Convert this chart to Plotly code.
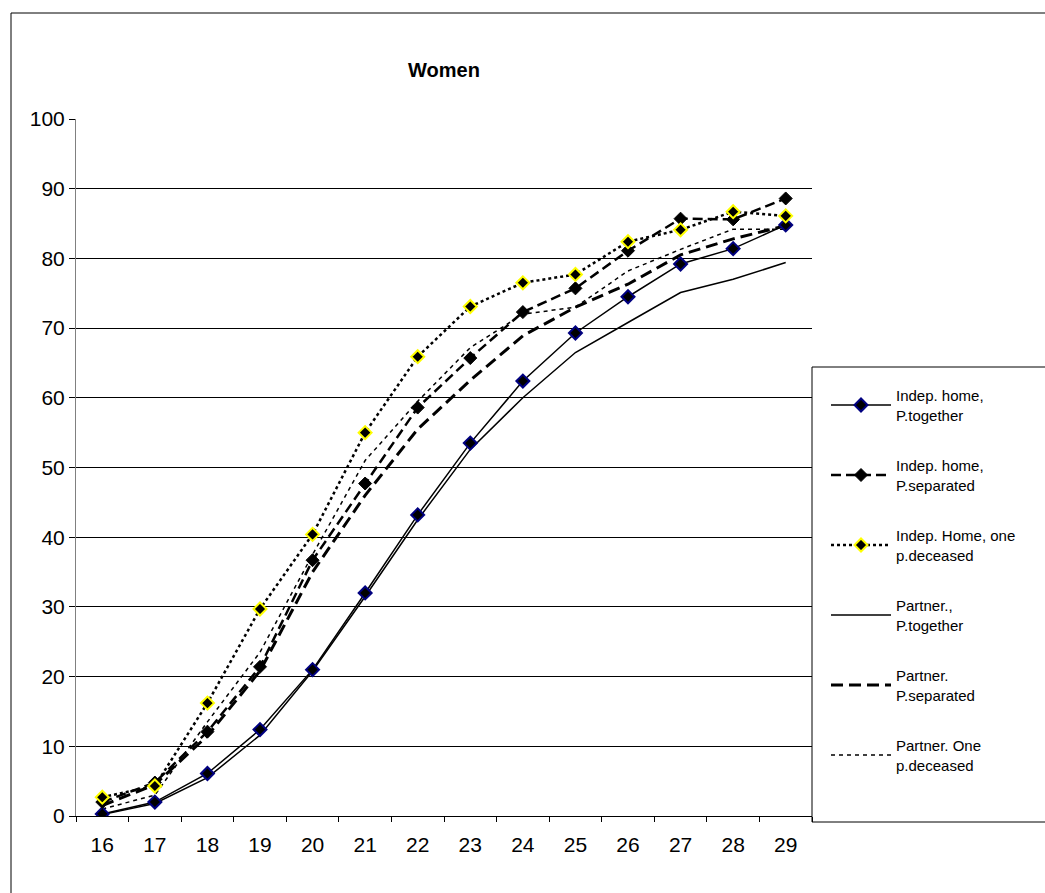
import plotly.graph_objects as go

ages = ["16", "17", "18", "19", "20", "21", "22", "23", "24", "25", "26", "27", "28", "29"]

indep_together = [0.3, 2.0, 6.1, 12.4, 21.0, 32.0, 43.2, 53.5, 62.4, 69.3, 74.5, 79.2, 81.4, 84.8]
indep_separated = [2.0, 4.8, 12.1, 21.4, 36.7, 47.7, 58.6, 65.7, 72.3, 75.7, 81.1, 85.7, 85.6, 88.6]
indep_deceased = [2.7, 4.3, 16.2, 29.7, 40.4, 55.0, 65.9, 73.1, 76.5, 77.7, 82.4, 84.1, 86.7, 86.1]
partner_together = [0.2, 1.8, 5.5, 11.6, 20.8, 31.5, 42.5, 52.6, 60.0, 66.5, 70.8, 75.1, 77.0, 79.4]
partner_separated = [1.5, 4.5, 11.5, 20.8, 35.0, 46.0, 55.5, 62.5, 68.9, 73.0, 76.3, 80.5, 82.8, 84.7]
partner_deceased = [1.0, 3.0, 13.5, 23.5, 37.5, 51.0, 59.5, 67.2, 72.0, 73.0, 78.2, 81.3, 84.2, 84.2]

names = [
    "Indep. home,<br>P.together",
    "Indep. home,<br>P.separated",
    "Indep. Home, one<br>p.deceased",
    "Partner.,<br>P.together",
    "Partner.<br>P.separated",
    "Partner. One<br>p.deceased",
]

fig = go.Figure()

fig.add_trace(go.Scatter(x=ages, y=partner_together, name=names[3], mode="lines",
                         line=dict(color="black", width=1.5), legendrank=4, legendgroup="g4"))
fig.add_trace(go.Scatter(x=ages, y=partner_separated, name=names[4], mode="lines",
                         line=dict(color="black", width=3, dash="12px,6px"), legendrank=5, legendgroup="g5"))
fig.add_trace(go.Scatter(x=ages, y=partner_deceased, name=names[5], mode="lines",
                         line=dict(color="black", width=1.5, dash="4px,4px"), legendrank=6, legendgroup="g6"))
fig.add_trace(go.Scatter(x=ages, y=indep_together, name=names[0], mode="lines+markers",
                         line=dict(color="black", width=1.5),
                         marker=dict(symbol="diamond", size=10, color="black",
                                     line=dict(color="#000080", width=2)), legendrank=1, legendgroup="g1"))
fig.add_trace(go.Scatter(x=ages, y=indep_separated, name=names[1], mode="lines+markers",
                         line=dict(color="black", width=2.5, dash="10px,5px"),
                         marker=dict(symbol="diamond", size=10, color="black",
                                     line=dict(color="black", width=1)), legendrank=2, legendgroup="g2"))
fig.add_trace(go.Scatter(x=ages, y=indep_deceased, name=names[2], mode="lines+markers",
                         line=dict(color="black", width=2.5, dash="dot"),
                         marker=dict(symbol="diamond", size=10, color="black",
                                     line=dict(color="#FFFF00", width=2)), legendrank=3, legendgroup="g3"))

PW, PH = 736, 697  # plot area size in px

fig.update_layout(
    width=1045, height=893,
    margin=dict(l=76, r=233, t=119, b=77),
    paper_bgcolor="white", plot_bgcolor="white",
    font=dict(family="Liberation Sans, Arial, sans-serif", size=21, color="black"),
    title=dict(text="<b>Women</b>", x=(444 / 1045), xanchor="center", y=1 - 70 / 893, yanchor="middle",
               font=dict(size=20, color="black")),
    showlegend=True,
    legend=dict(x=1.0 + 14 / PW, xanchor="left", y=(816 - 379) / PH, yanchor="top",
                borderwidth=0, bgcolor="rgba(0,0,0,0)",
                font=dict(size=15, color="black"), tracegroupgap=28,
                traceorder="grouped", itemwidth=60),
    xaxis=dict(type="category", range=[-0.5, 13.5], showgrid=False,
               showline=True, linecolor="black", linewidth=1,
               ticks="outside", ticklen=5, tickcolor="black", tickson="boundaries",
               ticklabelstandoff=10, tickfont=dict(size=21)),
    yaxis=dict(range=[0, 100], dtick=10, showgrid=True, gridcolor="black", gridwidth=1,
               showline=True, linecolor="#808080", linewidth=1,
               ticks="outside", ticklen=6, tickcolor="black", zeroline=False,
               tickfont=dict(size=21)),
    shapes=[
        dict(type="rect", xref="paper", yref="paper",
             x0=(11 - 76) / PW, x1=(1300 - 76) / PW,
             y0=(816 - 1000) / PH, y1=(816 - 13) / PH,
             line=dict(color="black", width=1), fillcolor="rgba(0,0,0,0)", layer="below"),
        dict(type="rect", xref="paper", yref="paper",
             x0=(812 - 76) / PW, x1=(1200 - 76) / PW,
             y0=(816 - 822) / PH, y1=(816 - 367) / PH,
             line=dict(color="black", width=1), fillcolor="white", layer="below"),
    ],
)

fig.write_html("out.html")
